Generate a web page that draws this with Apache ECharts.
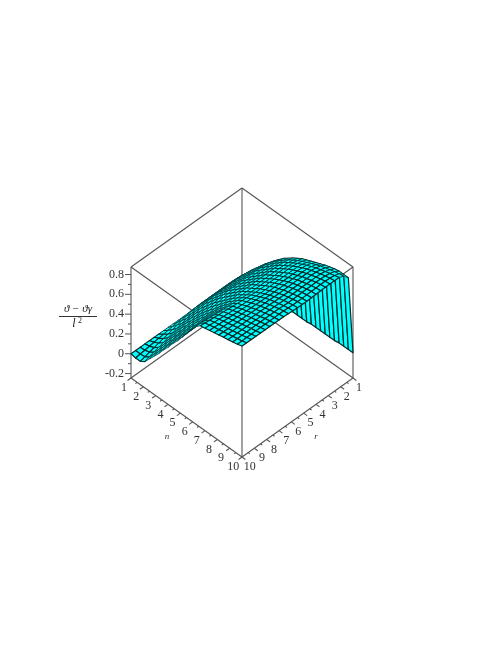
<!DOCTYPE html>
<html>
<head>
<meta charset="utf-8">
<style>
html, body { margin: 0; padding: 0; background: #fff; }
#chart { width: 498px; height: 645px; }
</style>
<script src="https://cdn.jsdelivr.net/npm/echarts@6/dist/echarts.min.js"></script>
</head>
<body>
<div id="chart"></div>
<script>
// grid lines of the surface
var nValues = [1, 1.375, 1.75, 2.125, 2.5, 2.875, 3.25, 3.625, 4, 4.375, 4.75, 5.125, 5.5, 5.875, 6.25, 6.625, 7, 7.375, 7.75, 8.125, 8.5, 8.875, 9.25, 9.625, 10];
var rValues = [1, 1.375, 1.75, 2.125, 2.5, 2.875, 3.25, 3.625, 4, 4.375, 4.75, 5.125, 5.5, 5.875, 6.25, 6.625, 7, 7.375, 7.75, 8.125, 8.5, 8.875, 9.25, 9.625, 10];

// height: one row per r value, one column per n value
var surfaceZ = [
  [0,-.01,-.01,-.01,-.01,-.01,-.01,-.01,-.01,-.01,-.01,-.01,-.01,-.01,-.01,0,0,0,0,0,0,.01,.01,.01,.01],
  [0,.05,.10,.16,.22,.28,.34,.39,.44,.485,.53,.565,.60,.63,.66,.68,.70,.72,.74,.76,.775,.79,.80,.80,.80],
  [0,.06,.12,.18,.24,.30,.355,.405,.455,.498,.54,.578,.615,.645,.675,.70,.722,.745,.765,.785,.80,.815,.828,.84,.85],
  [0,.066,.132,.192,.252,.312,.364,.414,.464,.505,.546,.585,.624,.654,.684,.712,.736,.76,.78,.80,.815,.83,.844,.856,.87],
  [0,.069,.138,.198,.258,.318,.368,.418,.468,.509,.549,.589,.628,.658,.688,.718,.743,.768,.788,.808,.823,.838,.852,.862,.87],
  [0,.07,.14,.20,.26,.32,.37,.42,.47,.51,.55,.59,.63,.66,.69,.72,.745,.77,.79,.81,.825,.84,.855,.865,.87],
  [0,.07,.14,.20,.26,.32,.37,.42,.47,.51,.55,.59,.63,.66,.69,.72,.745,.77,.79,.81,.825,.84,.855,.865,.87],
  [0,.07,.14,.20,.26,.32,.37,.42,.47,.51,.55,.59,.63,.66,.69,.72,.745,.77,.79,.81,.825,.84,.853,.863,.868],
  [0,.07,.14,.20,.26,.32,.37,.42,.47,.51,.55,.59,.63,.66,.69,.72,.745,.77,.79,.81,.825,.84,.852,.862,.866],
  [0,.07,.14,.20,.26,.32,.37,.42,.47,.51,.55,.59,.63,.66,.69,.72,.745,.77,.79,.81,.825,.838,.85,.86,.864],
  [0,.07,.14,.20,.26,.32,.37,.42,.47,.51,.55,.59,.63,.66,.69,.72,.745,.77,.79,.808,.823,.836,.848,.858,.862],
  [0,.07,.14,.20,.26,.32,.37,.42,.47,.51,.55,.59,.63,.66,.69,.72,.745,.77,.79,.808,.823,.836,.848,.858,.862],
  [0,.068,.136,.195,.255,.315,.365,.415,.465,.507,.548,.588,.63,.66,.69,.72,.745,.77,.79,.808,.823,.836,.848,.858,.862],
  [0,.063,.128,.185,.245,.305,.356,.408,.458,.501,.543,.585,.628,.661,.694,.725,.749,.773,.792,.811,.825,.838,.85,.86,.865],
  [0,.057,.115,.17,.23,.29,.342,.395,.447,.492,.535,.58,.625,.662,.698,.73,.753,.775,.793,.812,.826,.84,.854,.864,.868],
  [0,.05,.103,.155,.215,.275,.328,.383,.435,.483,.528,.575,.623,.662,.703,.735,.756,.778,.795,.812,.826,.84,.854,.864,.871],
  [0,.043,.09,.14,.20,.26,.313,.37,.423,.473,.52,.57,.62,.663,.707,.74,.76,.78,.797,.813,.827,.84,.853,.863,.872],
  [0,.037,.077,.125,.185,.245,.299,.357,.412,.464,.512,.565,.618,.664,.711,.745,.764,.783,.798,.814,.827,.84,.853,.863,.872],
  [0,.03,.065,.11,.17,.23,.285,.345,.40,.455,.505,.56,.615,.665,.715,.75,.768,.785,.80,.815,.828,.84,.853,.863,.873],
  [0,.023,.053,.095,.155,.215,.271,.333,.388,.446,.498,.555,.613,.666,.719,.755,.771,.788,.802,.816,.828,.84,.852,.862,.873],
  [0,.017,.04,.08,.14,.20,.257,.32,.377,.437,.49,.55,.61,.667,.723,.76,.775,.79,.803,.817,.828,.84,.852,.862,.873],
  [0,.01,.028,.065,.125,.185,.243,.308,.365,.428,.483,.545,.608,.668,.728,.765,.779,.793,.805,.818,.829,.84,.851,.861,.874],
  [0,.003,.015,.05,.11,.17,.228,.295,.353,.418,.475,.54,.605,.668,.732,.77,.782,.795,.807,.818,.829,.84,.851,.861,.874],
  [0,-.003,.002,.035,.095,.155,.214,.283,.342,.409,.467,.535,.602,.669,.736,.775,.786,.798,.808,.819,.83,.84,.85,.86,.875],
  [0,-.01,-.01,.02,.08,.14,.20,.27,.33,.40,.46,.53,.60,.67,.74,.78,.79,.80,.81,.82,.83,.84,.85,.86,.875]
];

var nTicks = [1, 2, 3, 4, 5, 6, 7, 8, 9, 10];
var rTicks = [1, 2, 3, 4, 5, 6, 7, 8, 9, 10];
var zTicks = [-0.2, 0, 0.2, 0.4, 0.6, 0.8];
var zMinorTicks = [-0.1, 0.1, 0.3, 0.5, 0.7];
var nMinorTicks = [1.5, 2.5, 3.5, 4.5, 5.5, 6.5, 7.5, 8.5, 9.5];
var rMinorTicks = [1.5, 2.5, 3.5, 4.5, 5.5, 6.5, 7.5, 8.5, 9.5];

var zBottom = -0.245;
var zTop = 0.876;

// view from above the n=10, r=10 corner
var floorDrop = 0.08857;
function project(n, r, z) {
  return [(n - r) / 9, z - (n + r - 2) * floorDrop];
}

var myChart = echarts.init(document.getElementById('chart'));

// edges of the box, each one [n1, r1, z1, n2, r2, z2]
var boxEdges = [
  [1, 10, zTop, 1, 1, zTop],
  [1, 1, zTop, 10, 1, zTop],
  [1, 10, zTop, 10, 10, zTop],
  [10, 10, zTop, 10, 1, zTop],
  [1, 1, zTop, 1, 1, zBottom],
  [1, 10, zTop, 1, 10, zBottom],
  [10, 1, zTop, 10, 1, zBottom],
  [10, 10, zTop, 10, 10, zBottom],
  [1, 10, zBottom, 1, 1, zBottom],
  [1, 1, zBottom, 10, 1, zBottom],
  [1, 10, zBottom, 10, 10, zBottom],
  [10, 10, zBottom, 10, 1, zBottom]
];

var tickData = [];
nTicks.forEach(function (v) { tickData.push([v, 10, zBottom, v, 10.28, zBottom]); });
nMinorTicks.forEach(function (v) { tickData.push([v, 10, zBottom, v, 10.14, zBottom]); });
rTicks.forEach(function (v) { tickData.push([10, v, zBottom, 10.28, v, zBottom]); });
rMinorTicks.forEach(function (v) { tickData.push([10, v, zBottom, 10.14, v, zBottom]); });

function lineItem(params, api) {
  var a = api.coord(project(api.value(0), api.value(1), api.value(2)));
  var b = api.coord(project(api.value(3), api.value(4), api.value(5)));
  return {
    type: 'line',
    shape: { x1: a[0], y1: a[1], x2: b[0], y2: b[1] },
    style: { stroke: '#555', lineWidth: 1.1, fill: null }
  };
}

// back cells first so the near ones paint over them
var cells = [];
for (var sum = 0; sum <= 46; sum++) {
  for (var i = 0; i < 24; i++) {
    var j = sum - i;
    if (j >= 0 && j < 24) cells.push([i, j]);
  }
}

function polygonArea(pts) {
  var a = 0;
  for (var k = 0; k < pts.length; k++) {
    var p = pts[k];
    var q = pts[(k + 1) % pts.length];
    a += p[0] * q[1] - q[0] * p[1];
  }
  return Math.abs(a) / 2;
}

function cellItem(params, api) {
  var i = api.value(0);
  var j = api.value(1);
  var corners = [[i, j], [i + 1, j], [i + 1, j + 1], [i, j + 1]];
  var points = corners.map(function (c) {
    return api.coord(project(nValues[c[0]], rValues[c[1]], surfaceZ[c[1]][c[0]]));
  });
  // squeezed cells get a thinner outline, otherwise they fill up black
  var width = 0.35 + 0.85 * Math.min(1, polygonArea(points) / 26);
  return {
    type: 'polygon',
    shape: { points: points },
    style: { fill: '#00ffff', stroke: '#002b2b', lineWidth: width, lineJoin: 'round' }
  };
}

function textItem(text, x, y, align) {
  return {
    type: 'text',
    x: x,
    y: y,
    style: {
      text: text,
      fill: '#333',
      font: '12px "Liberation Serif"',
      textAlign: align,
      textVerticalAlign: 'middle'
    }
  };
}

function tickLabels(params, api) {
  var kids = [];
  nTicks.forEach(function (v) {
    var p = api.coord(project(v, 10, zBottom));
    kids.push(textItem(String(v), p[0] - 7 - (v - 1) * 0.2, p[1] + 10, 'center'));
  });
  rTicks.forEach(function (v) {
    var p = api.coord(project(10, v, zBottom));
    kids.push(textItem(String(v), p[0] + 6 + (v - 1) * 0.2, p[1] + 10, 'center'));
  });
  zTicks.forEach(function (v) {
    var p = api.coord(project(1, 10, v));
    kids.push(textItem(String(v), p[0] - 7, p[1], 'right'));
  });
  return { type: 'group', children: kids };
}

function zTickLines(params, api) {
  var kids = [];
  zTicks.concat(zMinorTicks).forEach(function (v) {
    var p = api.coord(project(1, 10, v));
    var len = zTicks.indexOf(v) >= 0 ? 6 : 3;
    kids.push({
      type: 'line',
      shape: { x1: p[0] - len, y1: p[1], x2: p[0], y2: p[1] },
      style: { stroke: '#555', lineWidth: 1 }
    });
  });
  return { type: 'group', children: kids };
}

var option = {
  animation: false,
  backgroundColor: '#fff',
  grid: { left: 131, top: 188, width: 222, height: 269 },
  xAxis: { type: 'value', min: -1, max: 1, show: false },
  yAxis: { type: 'value', min: zBottom - 18 * floorDrop, max: zTop, show: false },
  graphic: [
    { type: 'line', shape: { x1: 59, y1: 316.5, x2: 97, y2: 316.5 }, style: { stroke: '#333', lineWidth: 1 } },
    { type: 'text', x: 78, y: 309, style: { text: '\u03d1 \u2212 \u03d1\u03b3', fill: '#222', font: 'italic 11px "Liberation Serif"', textAlign: 'center', textVerticalAlign: 'middle' } },
    { type: 'text', x: 74, y: 324, style: { text: 'l', fill: '#222', font: 'italic 12px "Liberation Serif"', textAlign: 'center', textVerticalAlign: 'middle' } },
    { type: 'text', x: 80, y: 321, style: { text: '2', fill: '#222', font: '8px "Liberation Serif"', textAlign: 'center', textVerticalAlign: 'middle' } },
    { type: 'text', x: 167, y: 437, style: { text: 'n', fill: '#333', font: 'italic 9px "Liberation Serif"', textAlign: 'center', textVerticalAlign: 'middle' } },
    { type: 'text', x: 316, y: 437, style: { text: 'r', fill: '#333', font: 'italic 9px "Liberation Serif"', textAlign: 'center', textVerticalAlign: 'middle' } }
  ],
  series: [
    { type: 'custom', name: 'box', silent: true, z: 1, renderItem: lineItem, data: boxEdges },
    { type: 'custom', name: 'ticks', silent: true, z: 1, renderItem: lineItem, data: tickData },
    { type: 'custom', name: 'zTicks', silent: true, z: 1, renderItem: zTickLines, data: [[0]] },
    { type: 'custom', name: 'labels', silent: true, z: 1, renderItem: tickLabels, data: [[0]] },
    { type: 'custom', name: 'surface', silent: true, z: 2, renderItem: cellItem, data: cells }
  ]
};

myChart.setOption(option);
</script>
</body>
</html>
